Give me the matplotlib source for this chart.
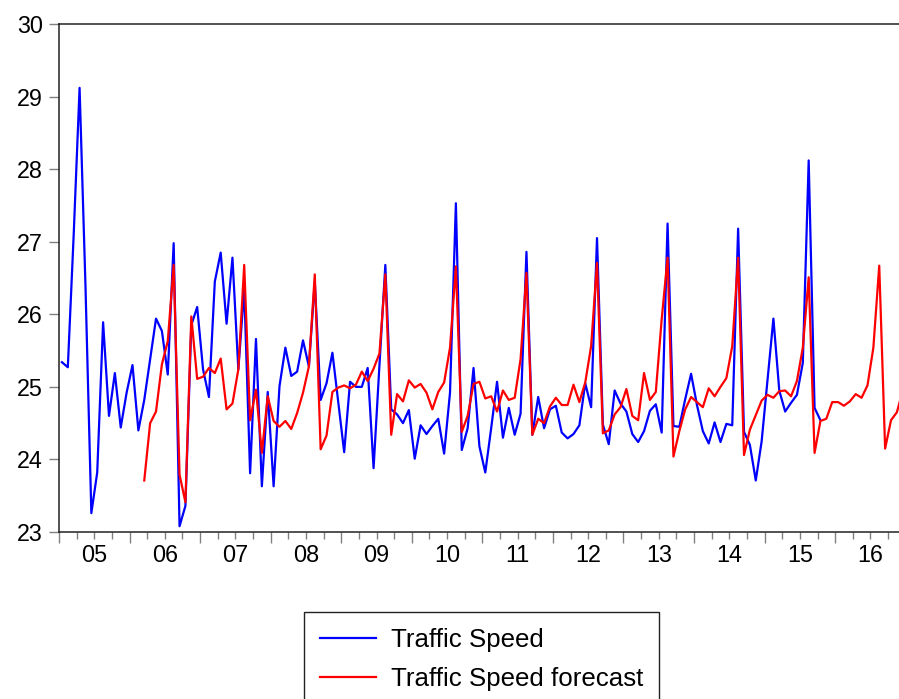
import numpy as np
import matplotlib
matplotlib.use("Agg")
import matplotlib.pyplot as plt

plt.rcParams['font.family'] = ['Liberation Sans', 'DejaVu Sans']

# monthly series, first observation Jan 2005
start_year = 2005
speed = [
    25.34, 25.27, 27.10, 29.12, 26.40, 23.26, 23.82, 25.89, 24.60, 25.19, 24.44, 24.92,
    25.30, 24.40, 24.82, 25.38, 25.94, 25.77, 25.17, 26.98, 23.08, 23.36, 25.85, 26.10,
    25.24, 24.86, 26.45, 26.85, 25.87, 26.78, 25.24, 26.35, 23.81, 25.66, 23.63, 24.93,
    23.63, 25.01, 25.54, 25.15, 25.21, 25.64, 25.28, 26.45, 24.82, 25.05, 25.47, 24.78,
    24.10, 25.07, 25.00, 25.00, 25.26, 23.88, 25.30, 26.68, 24.69, 24.62, 24.50, 24.68,
    24.01, 24.47, 24.35, 24.46, 24.56, 24.08, 24.92, 27.53, 24.13, 24.43, 25.26, 24.18,
    23.82, 24.43, 25.07, 24.30, 24.71, 24.34, 24.63, 26.86, 24.34, 24.86, 24.43, 24.69,
    24.74, 24.37, 24.29, 24.35, 24.47, 25.05, 24.72, 27.05, 24.48, 24.21, 24.95, 24.77,
    24.66, 24.35, 24.24, 24.39, 24.67, 24.76, 24.37, 27.25, 24.46, 24.45, 24.83, 25.18,
    24.75, 24.39, 24.22, 24.51, 24.24, 24.49, 24.47, 27.18, 24.38, 24.20, 23.71, 24.25,
    25.10, 25.94, 24.95, 24.66, 24.78, 24.89, 25.33, 28.12, 24.71, 24.54,
]

# forecast begins at month index 14 (Mar 2006)
forecast_start = 14
forecast = [
    23.71, 24.50, 24.66, 25.31, 25.63, 26.68, 23.79, 23.41, 25.97, 25.11,
    25.14, 25.26, 25.19, 25.39, 24.69, 24.77, 25.24, 26.68, 24.54, 24.96, 24.09, 24.87,
    24.53, 24.45, 24.53, 24.42, 24.64, 24.92, 25.28, 26.55, 24.14, 24.33, 24.93, 24.99,
    25.02, 24.98, 25.03, 25.21, 25.08, 25.25, 25.46, 26.55, 24.34, 24.90, 24.80, 25.09,
    24.99, 25.04, 24.92, 24.69, 24.93, 25.06, 25.54, 26.66, 24.38, 24.60, 25.04, 25.07,
    24.84, 24.87, 24.66, 24.95, 24.82, 24.85, 25.38, 26.57, 24.34, 24.56, 24.50, 24.73,
    24.85, 24.75, 24.75, 25.03, 24.79, 25.06, 25.56, 26.71, 24.36, 24.40, 24.62, 24.72,
    24.97, 24.60, 24.54, 25.19, 24.82, 24.93, 25.93, 26.78, 24.04, 24.39, 24.69, 24.86,
    24.79, 24.72, 24.98, 24.87, 25.00, 25.12, 25.56, 26.78, 24.06, 24.41, 24.61, 24.81,
    24.89, 24.85, 24.94, 24.95, 24.87, 25.08, 25.54, 26.51, 24.09, 24.53, 24.56, 24.79,
    24.79, 24.74, 24.80, 24.90, 24.85, 25.02, 25.54, 26.67, 24.15, 24.54, 24.65, 24.95,
]

year_labels = ['05', '06', '07', '08', '09', '10', '11', '12', '13', '14', '15', '16']

x_speed = start_year + (np.arange(len(speed)) + 0.5) / 12
x_fc = start_year + (np.arange(len(forecast)) + forecast_start + 0.5) / 12

fig = plt.figure(figsize=(8.99, 6.99), dpi=100)
ax = fig.add_axes([59 / 899, 167 / 699, 846.7 / 899, 508 / 699])

ax.plot(x_speed, speed, color='#0000ff', lw=1.6, label='Traffic Speed')
ax.plot(x_fc, forecast, color='#ff0000', lw=1.6, label='Traffic Speed forecast')

ax.set_xlim(2005, 2017)
ax.set_ylim(23, 30)
ax.set_yticks(range(23, 31))

years = np.arange(2005, 2018)
ax.set_xticks(years)
ax.set_xticklabels([])
ax.set_xticks(np.arange(2005, 2017.01, 0.25), minor=True)
ax.tick_params(axis='x', which='major', direction='out', length=8, width=1, color='#808080')
ax.tick_params(axis='x', which='minor', direction='out', length=5, width=1, color='#808080')
ax.tick_params(axis='y', direction='out', length=7.2, width=1, color='#808080',
               labelsize=16.8, pad=4.3)

# year labels centred between the year ticks
sec = ax.secondary_xaxis('bottom')
sec.set_xticks(years[:-1] + 0.5, labels=year_labels)
sec.tick_params(length=0, labelsize=16.8, pad=8.5)
sec.spines['bottom'].set_visible(False)

for side in ['left', 'bottom', 'top', 'right']:
    ax.spines[side].set_color('#222222')
    ax.spines[side].set_linewidth(1.1)

fig.legend(loc='upper left', bbox_to_anchor=(304 / 899, 1 - 612 / 699),
           bbox_transform=fig.transFigure, fontsize=18.6, frameon=True,
           fancybox=False, edgecolor='#222222', framealpha=1, borderaxespad=0,
           handlelength=2.17, handletextpad=0.58, borderpad=0.62, labelspacing=0.59)

fig.savefig('out.png', dpi=100)
